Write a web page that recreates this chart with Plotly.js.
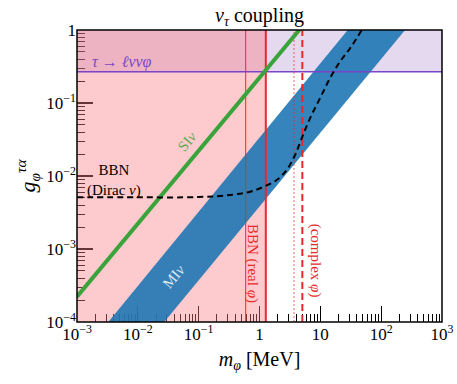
<!DOCTYPE html>
<html>
<head>
<meta charset="utf-8">
<script src="https://cdn.plot.ly/plotly-3.0.1.min.js"></script>
<style>
  html, body { margin: 0; padding: 0; background: #fff; }
  #chart { width: 457px; height: 384px; }
</style>
</head>
<body>
<div id="chart"></div>
<script>
// limits (MeV for masses)
var tauDecayLimit = 0.268;          // tau -> l nu nu phi, excluded above
var bbnRealMass = 1.27;             // BBN (real phi), excluded below
var bbnThinMass = 0.593;
var bbnComplexDotted = 3.69;
var bbnComplexDashed = 5.06;

// SI nu line
var siMass = [1e-3, 4.5];
var siCoupling = [2.22e-4, 1.0];

// MI nu band (polygon corners)
var miMass = [3.27e-3, 28.2, 247, 0.0272];
var miCoupling = [1e-4, 1, 1, 1e-4];

// BBN (Dirac nu) dashed curve
var diracMass = [1e-3, 0.01, 0.1, 0.33, 0.70, 1.16, 1.92, 2.8, 3.84, 4.94, 6.77, 9.88, 14.4, 21.0, 30.8, 47.9];
var diracCoupling = [5.1e-3, 5.1e-3, 5.15e-3, 5.5e-3, 6.1e-3, 7.1e-3, 8.8e-3, 0.0121, 0.0194, 0.0328, 0.0617, 0.116, 0.218, 0.368, 0.561, 1.0];

// axis ticks
var xTickVals = [1e-3, 1e-2, 1e-1, 1, 10, 100, 1000];
var xTickText = ['10<sup>−3</sup>', '10<sup>−2</sup>', '10<sup>−1</sup>', '1', '10', '10<sup>2</sup>', '10<sup>3</sup>'];
var yTickVals = [1e-4, 1e-3, 1e-2, 1e-1, 1];
var yTickText = ['10<sup>−4</sup>', '10<sup>−3</sup>', '10<sup>−2</sup>', '10<sup>−1</sup>', '1'];

var xMin = 1e-3, xMax = 1e3, yMin = 1e-4, yMax = 1;

function minorTicks(lo, hi) {
    var out = [];
    for (var d = lo; d < hi; d++) {
        for (var k = 2; k <= 9; k++) out.push(k * Math.pow(10, d));
    }
    return out;
}

var red = '#e8292b';
var purple = '#7a45c8';
var font = '"Liberation Serif"';

var data = [
    { // tau decay band
        x: [xMin, xMax, xMax, xMin], y: [tauDecayLimit, tauDecayLimit, yMax, yMax],
        fill: 'toself', fillcolor: 'rgba(148,103,189,0.25)', mode: 'lines', line: {width: 0}
    },
    { // BBN real phi region
        x: [xMin, bbnRealMass, bbnRealMass, xMin], y: [yMin, yMin, yMax, yMax],
        fill: 'toself', fillcolor: 'rgba(250,126,133,0.41)', mode: 'lines', line: {width: 0}
    },
    { // MI nu band
        x: miMass, y: miCoupling,
        fill: 'toself', fillcolor: 'rgba(31,119,180,0.9)', mode: 'lines', line: {width: 0}
    },
    {
        x: [xMin, xMax], y: [tauDecayLimit, tauDecayLimit],
        mode: 'lines', line: {color: purple, width: 1.5}
    },
    {
        x: [bbnThinMass, bbnThinMass], y: [yMin, yMax],
        mode: 'lines', line: {color: red, width: 1}
    },
    {
        x: [bbnRealMass, bbnRealMass], y: [yMin, yMax],
        mode: 'lines', line: {color: red, width: 2}
    },
    {
        x: [bbnComplexDotted, bbnComplexDotted], y: [yMin, yMax],
        mode: 'lines', line: {color: 'rgba(232,41,43,0.7)', width: 1, dash: '2px,2px'}
    },
    {
        x: [bbnComplexDashed, bbnComplexDashed], y: [yMin, yMax],
        mode: 'lines', line: {color: red, width: 2, dash: '7px,4px'}
    },
    { // SI nu
        x: siMass, y: siCoupling,
        mode: 'lines', line: {color: '#3ba33b', width: 4}
    },
    { // BBN Dirac nu
        x: diracMass, y: diracCoupling,
        mode: 'lines', line: {color: '#000', width: 2, dash: '6px,4px', shape: 'spline'}
    }
];
data.forEach(function (t) { t.type = 'scatter'; t.hoverinfo = 'none'; t.showlegend = false; });

function ann(x, y, text, color, size, angle) {
    return {
        x: Math.log10(x), y: Math.log10(y), xref: 'x', yref: 'y',
        text: text, showarrow: false, textangle: angle || 0,
        font: {family: font, size: size, color: color}
    };
}

var bbnDirac = ann(4.05e-3, 8.8e-3, 'BBN<br>(Dirac <i>ν</i>)', '#000', 15);
bbnDirac.align = 'center';

var layout = {
    width: 457,
    height: 384,
    margin: {l: 77, r: 15, t: 30, b: 62},
    paper_bgcolor: '#fff',
    plot_bgcolor: '#fff',
    font: {family: font, color: '#000'},
    title: {
        text: '<i>ν</i><sub><i>τ</i></sub> coupling',
        font: {family: font, size: 20},
        x: 0.5, xref: 'paper', y: 0.962, yref: 'container', yanchor: 'middle'
    },
    xaxis: {
        type: 'log',
        range: [-3, 3],
        tickmode: 'array', tickvals: xTickVals, ticktext: xTickText,
        ticks: 'inside', ticklen: 16, tickwidth: 1.3, tickcolor: '#000',
        minor: {tickvals: minorTicks(-3, 3), ticks: 'inside', ticklen: 8, tickwidth: 1, tickcolor: '#000', showgrid: false},
        tickfont: {family: font, size: 17},
        showgrid: false, zeroline: false, showline: false,
        layer: 'below traces',
        title: {text: '<i>m</i><sub><i>φ</i></sub> [MeV]', font: {family: font, size: 20}, standoff: 8}
    },
    yaxis: {
        type: 'log',
        range: [-4, 0],
        tickmode: 'array', tickvals: yTickVals, ticktext: yTickText,
        ticks: 'inside', ticklen: 16, tickwidth: 1.3, tickcolor: '#000',
        minor: {tickvals: minorTicks(-4, 0), ticks: 'inside', ticklen: 8, tickwidth: 1, tickcolor: '#000', showgrid: false},
        tickfont: {family: font, size: 17},
        showgrid: false, zeroline: false, showline: false,
        layer: 'below traces',
        title: {text: '<i>g</i><sub><i>φ</i></sub><sup><i>τα</i></sup>', font: {family: font, size: 22}, standoff: 4}
    },
    shapes: [{
        type: 'rect', xref: 'paper', yref: 'paper', x0: 0, x1: 1, y0: 0, y1: 1,
        line: {color: '#000', width: 1.5}, layer: 'above'
    }],
    annotations: [
        ann(0.0635, 0.0295, 'SI<i>ν</i>', 'rgba(44,160,44,0.75)', 15, -50),
        ann(0.0383, 4.18e-4, 'MI<i>ν</i>', 'rgba(255,255,255,0.85)', 15, -50),
        bbnDirac,
        ann(5.5e-3, 0.368, '<i>τ</i> → <i>ℓνν</i><i>φ</i>', purple, 16),
        ann(0.79, 6.4e-4, 'BBN (real <i>φ</i>)', red, 15, 90),
        ann(8.2, 6.9e-4, '(complex <i>φ</i>)', red, 15, 90)
    ]
};

Plotly.newPlot(document.getElementById('chart'), data, layout, {displayModeBar: false, staticPlot: true});
</script>
</body>
</html>
